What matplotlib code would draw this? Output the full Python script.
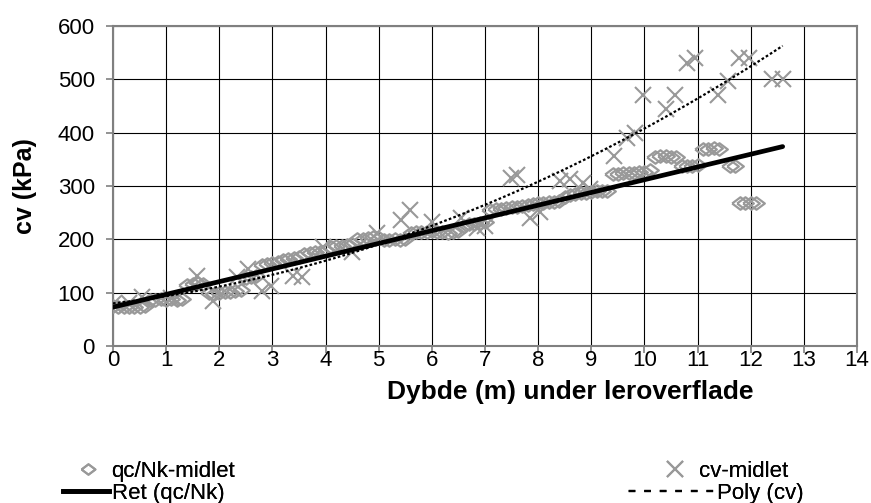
import numpy as np
import matplotlib.pyplot as plt
from matplotlib.lines import Line2D

# qc/Nk-midlet (diamonds)
dybde_qc = [0.0, 0.1, 0.2, 0.3, 0.4, 0.5, 0.6,
            0.7, 0.8, 0.9, 1.0, 1.1, 1.2, 1.3,
            1.4, 1.5, 1.6, 1.7,
            1.8, 1.9, 2.0, 2.1, 2.2, 2.3, 2.4,
            2.5, 2.6, 2.7,
            2.8, 2.9, 3.0, 3.1,
            3.2, 3.3, 3.4, 3.5,
            3.6, 3.7, 3.8, 3.9, 4.0,
            4.1, 4.2, 4.3, 4.4, 4.5,
            4.6, 4.7, 4.8, 4.9, 5.0,
            5.1, 5.2, 5.3, 5.4, 5.5,
            5.6, 5.7, 5.8, 5.9, 6.0, 6.1, 6.2, 6.3, 6.4, 6.5,
            6.6, 6.7, 6.8, 6.9, 7.0,
            7.1, 7.2, 7.3, 7.4, 7.5, 7.6, 7.7,
            7.8, 7.9, 8.0, 8.1, 8.2, 8.3, 8.4,
            8.5, 8.6, 8.7, 8.8, 8.9, 9.0, 9.1, 9.2, 9.3,
            9.4, 9.5, 9.6, 9.7, 9.8, 9.9, 10.0, 10.1,
            10.2, 10.3, 10.4, 10.5, 10.6,
            10.7, 10.8, 10.9, 11.0,
            11.1, 11.2, 11.3, 11.4,
            11.6, 11.7,
            11.8, 11.9, 12.0, 12.1]
qc_nk = [75, 74, 73, 73, 74, 73, 76,
         86, 87, 88, 87, 88, 86, 88,
         115, 117, 118, 116,
         100, 98, 100, 102, 101, 103, 105,
         128, 130, 131,
         152, 154, 155, 158,
         162, 164, 166, 167,
         172, 174, 176, 177, 180,
         185, 187, 188, 190, 192,
         200, 201, 203, 204, 202,
         198, 199, 200, 198, 200,
         212, 213, 214, 213, 215, 214, 213, 212, 214, 215,
         226, 228, 229, 230, 232,
         256, 257, 258, 259, 260, 261, 262,
         265, 267, 268, 269, 270, 271, 272,
         280, 284, 286, 287, 288, 289, 290, 290, 291,
         322, 323, 324, 325, 325, 326, 327, 330,
         355, 356, 356, 355, 354,
         338, 337, 338, 339,
         370, 370, 371, 370,
         337, 338,
         268, 268, 269, 268]

# cv-midlet (crosses)
dybde_cv = [0.0, 0.3, 0.55, 1.1, 1.58, 1.88, 2.33, 2.54, 2.8, 2.98, 3.39, 3.56,
            3.96, 4.5, 4.97, 5.42, 5.58, 6.0, 6.55, 6.85, 7.0, 7.48, 7.6, 7.85,
            8.04, 8.42, 8.6, 8.85, 8.98, 9.42, 9.68, 9.83, 9.98, 10.4, 10.58,
            10.8, 10.96, 11.39, 11.58, 11.77, 11.96, 12.4, 12.6]
cv = [78, 80, 92, 90, 131, 84, 129, 145, 103, 113, 132, 130,
      185, 176, 212, 236, 255, 232, 240, 222, 225, 316, 320, 240,
      252, 310, 314, 306, 295, 357, 391, 400, 470, 445, 470,
      530, 541, 470, 497, 541, 541, 500, 500]

# trendlines (Excel: linear for qc/Nk, 2nd order poly for cv)
ret_coef = [23.9, 73.0]
poly_coef = [2.13, 11.5, 80.0]
trend_range = [0.0, 12.6]

grey = '#999999'
plt.rcParams['font.family'] = ['Liberation Sans', 'DejaVu Sans']

fig = plt.figure(figsize=(8.71, 5.03), dpi=100)
ax = fig.add_axes([0.1297, 0.312, 0.8543, 0.636])

diamond = [(-1, 0), (0, 0.75), (1, 0), (0, -0.75), (-1, 0)]
ax.plot(dybde_qc, qc_nk, linestyle='none', marker=diamond, markersize=12,
        markerfacecolor='none', markeredgecolor=grey, markeredgewidth=1.6, zorder=3)
ax.plot(dybde_cv, cv, linestyle='none', marker='x', markersize=11,
        color=grey, markeredgewidth=1.5, zorder=3)

t = np.linspace(trend_range[0], trend_range[1], 200)
ax.plot(t, np.polyval(ret_coef, t), color='black', linewidth=3.4,
        solid_capstyle='round', zorder=4)
ax.plot(t, np.polyval(poly_coef, t), color='black', linewidth=1.6,
        linestyle=(0, (1.2, 1.0)), zorder=4)

ax.set_xlim(0, 14)
ax.set_ylim(0, 600)
ax.set_xticks(range(0, 15))
ax.set_yticks(range(0, 601, 100))
ax.grid(True, color='black', linewidth=0.8)
ax.set_axisbelow(True)
for s in ax.spines.values():
    s.set_color('#808080')
    s.set_linewidth(1.5)
ax.tick_params(direction='out', length=5, width=1.2, color='#808080', labelsize=16)
ax.tick_params(axis='y', pad=8)
ax.tick_params(axis='x', pad=-2)

ax.set_xlabel('Dybde (m) under leroverflade', fontsize=19, fontweight='bold')
ax.xaxis.set_label_coords(0.614, -0.105)
ax.set_ylabel('cv (kPa)', fontsize=18, fontweight='bold', labelpad=15)

# legend: one entry per box so each key keeps its own width (like Excel)
dot_key = (4, (3, 4))
entries = [
    (Line2D([], [], linestyle='none', marker=diamond, markersize=10,
            markerfacecolor='none', markeredgecolor=grey, markeredgewidth=1.5),
     'qc/Nk-midlet', 0.077, 0.084, 1.9),
    (Line2D([], [], color='black', linewidth=3.4),
     'Ret (qc/Nk)', 0.072, 0.040, 2.1),
    (Line2D([], [], linestyle='none', marker='x', markersize=11, color=grey,
            markeredgewidth=1.5),
     'cv-midlet', 0.749, 0.084, 2.0),
    (Line2D([], [], color='black', linewidth=1.6, linestyle=dot_key),
     'Poly (cv)', 0.714, 0.040, 4.2),
]
for handle, label, lx, ly, hl in entries:
    leg = fig.legend([handle], [label], loc='upper left',
                     bbox_to_anchor=(lx, ly), frameon=False, fontsize=16,
                     handlelength=hl, handletextpad=0.1,
                     borderpad=0, borderaxespad=0)
    fig.add_artist(leg)

fig.savefig('out.png', dpi=100)
